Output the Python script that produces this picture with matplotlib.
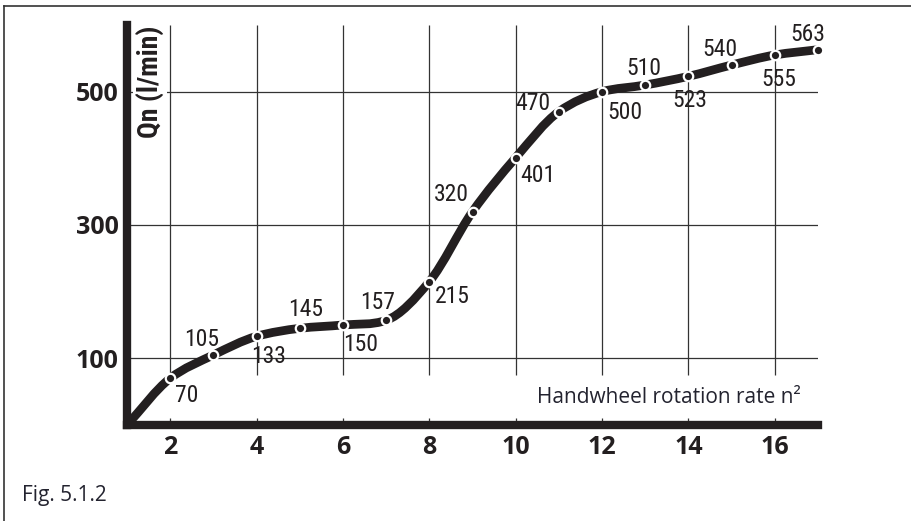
import numpy as np
import matplotlib
matplotlib.use("Agg")
import matplotlib.pyplot as plt
from matplotlib.path import Path
from matplotlib.patches import PathPatch
from matplotlib import font_manager

# handwheel rotation rate n^2 and flow Qn (l/min)
n = [1, 2, 3, 4, 5, 6, 7, 8, 9, 10, 11, 12, 13, 14, 15, 16, 17]
qn = [0, 70, 105, 133, 145, 150, 157, 215, 320, 401, 470, 500, 510, 523, 540, 555, 563]
x_ticks = [2, 4, 6, 8, 10, 12, 14, 16]
y_ticks = [100, 300, 500]

# where each value label sits relative to its point (pixels), above or below
label_offsets = [(17, -6), (-12, 9), (12, -9), (6, 12), (18, -8), (-9, 11), (23, -3), (-21, 11),
                 (22, -6), (-26, 2), (23, -9), (-1, 10), (1, -13), (-12, 9), (4, -13), (-10, 9)]

names = {f.name for f in font_manager.fontManager.ttflist}
narrow, label_size = 'Liberation Sans', 16
for cand in ['Liberation Sans Narrow', 'Roboto Condensed', 'Open Sans Condensed', 'Arial Narrow']:
    if cand in names:
        narrow, label_size = cand, 17
        break
ink = '#231f20'


def smooth_path(xs, ys):
    # cubic Bezier through the points; tangents are a blend of the
    # Catmull-Rom and the monotone (harmonic mean) estimates
    xs = np.asarray(xs, float)
    ys = np.asarray(ys, float)
    h = np.diff(xs)
    d = np.diff(ys) / h
    m = np.zeros_like(ys)
    m[0], m[-1] = d[0], d[-1]
    for i in range(1, len(xs) - 1):
        cr = (d[i - 1] + d[i]) / 2
        hm = 2 * d[i - 1] * d[i] / (d[i - 1] + d[i]) if d[i - 1] * d[i] > 0 else 0.0
        m[i] = (cr + hm) / 2
    verts = [(xs[0], ys[0])]
    codes = [Path.MOVETO]
    for i in range(len(xs) - 1):
        verts += [(xs[i] + h[i] / 3, ys[i] + m[i] * h[i] / 3),
                  (xs[i + 1] - h[i] / 3, ys[i + 1] - m[i + 1] * h[i] / 3),
                  (xs[i + 1], ys[i + 1])]
        codes += [Path.CURVE4] * 3
    return Path(verts, codes)


fig = plt.figure(figsize=(9.11, 5.21), dpi=100)
ax = fig.add_axes([127 / 911, (521 - 425) / 521, (818 - 127) / 911, (425 - 25) / 521])
ax.set_xlim(1, 17)
ax.set_ylim(0, 600)

# frame around the whole figure (left and top only visible)
fig.add_artist(plt.Line2D([4 / 911, 4 / 911], [0, 1 - 6 / 521], color='#333333', lw=1.2))
fig.add_artist(plt.Line2D([4 / 911, 1], [1 - 6 / 521, 1 - 6 / 521], color='#333333', lw=1.2))

# grid: vertical lines stop above the axis title row, with short stubs at the axis
ax.vlines(x_ticks, 75, 600, color='#333333', lw=0.9, zorder=1)
ax.vlines(x_ticks, 0, 10, color='#333333', lw=0.9, zorder=1)
ax.hlines(y_ticks, 1, 17, color='#333333', lw=0.9, zorder=1)

curve = PathPatch(smooth_path(n, qn), facecolor='none', edgecolor=ink, lw=6.3,
                  capstyle='butt', joinstyle='round', zorder=3)
ax.add_patch(curve)
ax.plot(n[1:], qn[1:], 'o', ms=6.8, mfc=ink, mec='white', mew=1.6, zorder=4, clip_on=False)

for x, y, (dx, dy) in zip(n[1:], qn[1:], label_offsets):
    va = 'baseline' if dy > 0 else 'top'
    ax.annotate(str(y), (x, y), xytext=(dx, dy), textcoords='offset pixels',
                ha='center', va=va, fontsize=label_size, family=narrow, color=ink, zorder=5)

for side in ['top', 'right']:
    ax.spines[side].set_visible(False)
for side in ['left', 'bottom']:
    ax.spines[side].set_linewidth(6)
    ax.spines[side].set_color(ink)

ax.set_xticks(x_ticks)
ax.set_yticks(y_ticks)
ax.tick_params(axis='x', length=0, pad=7)
ax.tick_params(axis='y', length=0, pad=6)
for lab in ax.get_xticklabels() + ax.get_yticklabels():
    lab.set_fontfamily('Open Sans')
    lab.set_fontweight('bold')
    lab.set_fontsize(18)
    lab.set_color(ink)

ax.text(0.013, 1.0, "Qn (l/min)", transform=ax.transAxes, rotation=90,
        ha='left', va='top', fontsize=20, fontweight='bold', family=narrow,
        color=ink, zorder=6,
        bbox=dict(boxstyle='square,pad=0.1', facecolor='white', edgecolor='none'))

fig.text(801 / 911, 1 - 403 / 521, "Handwheel rotation rate n²", ha='right', va='baseline',
         fontsize=15, family='Open Sans', color='#23232f')
fig.text(22 / 911, 1 - 501 / 521, "Fig. 5.1.2", ha='left', va='baseline',
         fontsize=15, family='Open Sans', color='#23232f')

plt.savefig("out.png", dpi=100)
